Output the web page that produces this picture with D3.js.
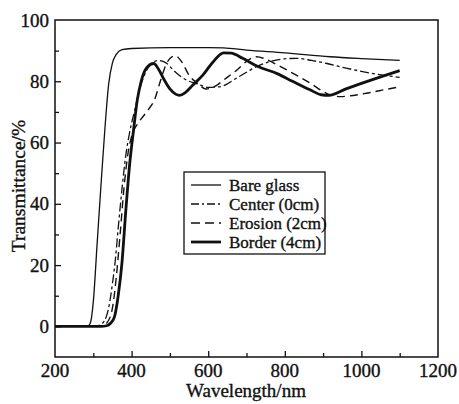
<!DOCTYPE html>
<html><head><meta charset="utf-8">
<script src="https://cdn.jsdelivr.net/npm/d3@7"></script>
<style>body{margin:0;background:#fff}svg{display:block}text{font-family:"Liberation Serif","Times New Roman",serif;fill:#111;stroke:#111;stroke-width:0.35px}</style>
</head><body><svg id="c" width="459" height="404"></svg>
<script>
const xTicks=[200,400,600,800,1000,1200];
const yTicks=[0,20,40,60,80,100];
const seriesNames=["Bare glass","Center (0cm)","Erosion (2cm)","Border (4cm)"];
const bareWl=[200,285,292,300,310,320,330,340,350,360,375,400,500,600,640,700,800,918,1000,1100];
const bareT=[0,0,1,8,27,46,64,79,86,88.8,90.3,90.7,91,91,90.9,90.2,89.3,88,87.4,86.8];
const centerWl=[200,300,315,330,340,350,357,365,375,385,396,409,420,435,450,470,490,510,530,550,570,600,630,680,735,790,830,870,910,960,1056,1100];
const centerT=[0,0,0.3,2,6,14,21,32,45,56,64,71,77,82.5,85.5,86.8,86,83.5,81.4,80,79.2,78,78.2,81.5,85.3,87.2,87.5,86.8,85.8,84.3,82,81.3];
const erosionWl=[200,310,325,340,350,360,370,380,390,400,415,430,445,460,475,490,505,515,530,550,570,595,620,640,675,700,725,745,770,805,866,910,944,1000,1050,1100];
const erosionT=[0,0,0.3,2,6,16,30,45,56,62,66,68.5,71,74,80,85.5,88,88.3,86.5,82,79.5,77.5,78.5,80.4,83.7,86.5,88,87.5,86,83.7,79.4,76,75,75.8,77,78.2];
const borderWl=[200,320,335,345,355,365,375,385,395,405,415,425,440,458,470,485,500,515,525,540,560,586,612,640,660,690,730,780,820,866,895,915,960,1000,1056,1100];
const borderT=[0,0,0.2,1,3,10,21,38,53,64,74,80,84.5,85.8,84,80.5,77.5,75.8,75.4,76.3,78.8,82,86.2,89.3,89.2,87.5,84.8,82.5,80,77.2,75.6,75.4,77.5,79.3,81.7,83.5];

const svg=d3.select("#c");
const x=d3.scaleLinear().domain([200,1200]).range([55,438]);
const y=d3.scaleLinear().domain([-10,100]).range([357,20]);

svg.append("rect").attr("x",55).attr("y",20).attr("width",383).attr("height",337)
  .attr("fill","none").attr("stroke","#111").attr("stroke-width",1.5);

const xa=svg.append("g").attr("transform","translate(0,357)");
xa.call(d3.axisBottom(x).tickValues(d3.range(200,1201,100)).tickSize(-5).tickFormat(""))
  .call(g=>g.select(".domain").remove());
xa.selectAll(".tick line").attr("stroke","#111").attr("stroke-width",1.3)
  .attr("y2",d=>d%200===0?-6:-4);
xa.selectAll(".tick").filter(d=>d===200||d===1200).remove();
svg.append("g").selectAll("text").data(xTicks).join("text")
  .attr("x",d=>x(d)).attr("y",377).attr("text-anchor","middle").attr("font-size",19).text(d=>d);

const ya=svg.append("g").attr("transform","translate(55,0)");
ya.call(d3.axisLeft(y).tickValues(d3.range(-10,101,10)).tickSize(-5).tickFormat(""))
  .call(g=>g.select(".domain").remove());
ya.selectAll(".tick line").attr("stroke","#111").attr("stroke-width",1.3)
  .attr("x2",d=>d%20===0?6:4);
ya.selectAll(".tick").filter(d=>d===-10||d===100).remove();
svg.append("g").selectAll("text").data(yTicks).join("text")
  .attr("x",49).attr("y",d=>y(d)+6.5).attr("text-anchor","end").attr("font-size",19).text(d=>d);

svg.append("text").attr("x",246).attr("y",397).attr("text-anchor","middle").attr("font-size",19).text("Wavelength/nm");
svg.append("text").attr("transform","translate(25,186) rotate(-90)").attr("text-anchor","middle").attr("font-size",19.5).text("Transmittance/%");

const line=d3.line().x(d=>x(d[0])).y(d=>y(d[1])).curve(d3.curveMonotoneX);
const styles=[
  {w:1.3,dash:null},
  {w:1.3,dash:"9,3,3,3"},
  {w:1.4,dash:"8,5"},
  {w:2.8,dash:null}
];
const data=[d3.zip(bareWl,bareT),d3.zip(centerWl,centerT),d3.zip(erosionWl,erosionT),d3.zip(borderWl,borderT)];
data.forEach((d,i)=>{
  svg.append("path").datum(d).attr("d",line).attr("fill","none").attr("stroke","#111")
    .attr("stroke-width",styles[i].w).attr("stroke-dasharray",styles[i].dash).attr("stroke-linejoin","round");
});

const lg=svg.append("g");
lg.append("rect").attr("x",184).attr("y",172).attr("width",141).attr("height",82)
  .attr("fill","#fff").attr("stroke","#111").attr("stroke-width",1.3);
seriesNames.forEach((n,i)=>{
  const cy=185+i*19;
  lg.append("line").attr("x1",191).attr("x2",221).attr("y1",cy).attr("y2",cy)
    .attr("stroke","#111").attr("stroke-width",styles[i].w).attr("stroke-dasharray",i===1?"8,3,2,3":(i===2?"9,5":null));
  lg.append("text").attr("x",229).attr("y",cy+6).attr("font-size",17).text(n);
});
</script></body></html>
